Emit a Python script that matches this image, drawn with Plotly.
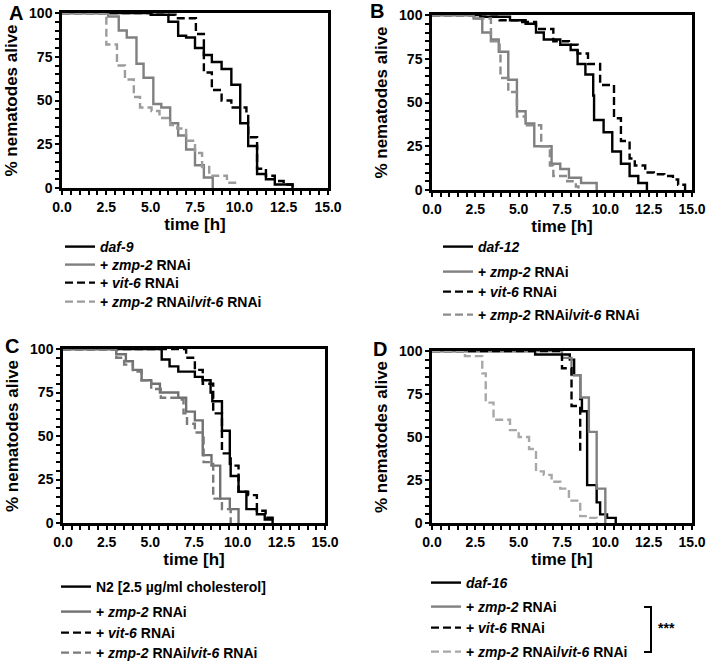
import plotly.graph_objects as go

W, H = 708, 663

# ---------------- data (time [h], % alive) ----------------
# Panel A
A_daf9_t = [0, 5.05, 6.0, 6.55, 7.0, 7.5, 8.0, 8.45, 9.0, 9.55, 10.05, 10.5, 11.0, 11.5, 12.0, 13.0]
A_daf9_s = [100, 99, 95, 87, 86, 80, 76, 72, 68, 59, 37, 24, 8, 5, 2, 0]
A_zmp2_t = [0, 2.6, 3.2, 3.65, 4.2, 4.6, 5.15, 5.6, 6.1, 6.55, 7.0, 7.5, 8.0, 8.5]
A_zmp2_s = [100, 98, 90, 86, 71, 63, 48, 46, 37, 30, 22, 13, 6, 0]
A_vit6_t = [0, 5.0, 6.4, 7.55, 8.0, 8.45, 9.0, 9.55, 10.4, 10.5, 11.0, 11.5, 12.0, 12.5, 13.0]
A_vit6_s = [100, 99, 97, 88, 66, 56, 50, 46, 43, 29, 11, 7, 4, 2, 0]
A_both_t = [0, 2.5, 3.1, 3.55, 4.05, 4.4, 5.05, 5.5, 6.1, 6.5, 7.0, 7.5, 7.9, 8.3, 9.3, 9.9]
A_both_s = [100, 82, 70, 62, 52, 46, 44, 40, 36, 34, 27, 20, 12, 7, 3, 3]

# Panel B
B_daf12_t = [0, 2.8, 4.5, 5.4, 6.0, 6.45, 7.4, 8.0, 8.4, 8.85, 9.3, 9.35, 9.9, 10.4, 10.9, 11.4, 11.9, 12.4]
B_daf12_s = [100, 99, 97, 95, 90, 86, 83, 80, 72, 66, 54, 40, 33, 22, 15, 8, 4, 0]
B_zmp2_t = [0, 2.4, 2.9, 3.4, 3.85, 4.4, 4.9, 5.4, 5.9, 6.9, 7.4, 7.9, 8.6, 9.5]
B_zmp2_s = [100, 98, 90, 86, 79, 63, 45, 38, 25, 15, 12, 7, 4, 0]
B_vit6_t = [0, 2.8, 3.9, 5.0, 6.0, 7.0, 7.9, 8.4, 9.0, 9.7, 10.5, 10.9, 11.4, 11.7, 12.3, 12.8, 13.4, 13.9, 14.2, 14.6]
B_vit6_s = [100, 99, 97, 96, 92, 85, 83, 78, 72, 60, 41, 28, 18, 14, 10, 9, 8, 6, 3, 0]
B_both_t = [0, 2.4, 3.4, 3.9, 3.95, 4.4, 4.9, 5.4, 6.3, 6.8, 7.0, 7.8, 8.3, 8.45]
B_both_s = [100, 98, 85, 79, 64, 56, 42, 37, 25, 14, 8, 5, 2, 0]

# Panel C
C_n2_t = [0, 5.65, 6.1, 6.6, 7.55, 8.0, 8.45, 8.55, 9.1, 9.55, 9.6, 10.05, 10.5, 11.1, 11.55, 12.0]
C_n2_s = [100, 94, 90, 87, 84, 82, 75, 70, 53, 34, 27, 18, 8, 5, 2, 0]
C_zmp2_t = [0, 3.05, 3.6, 4.0, 4.5, 5.05, 5.55, 6.6, 7.05, 7.55, 8.0, 8.5, 9.0, 9.55, 10.05]
C_zmp2_s = [100, 97, 93, 88, 82, 80, 75, 72, 64, 59, 39, 33, 14, 8, 0]
C_vit6_t = [0, 7.05, 7.55, 8.0, 8.6, 9.1, 9.6, 10.05, 10.6, 11.1, 11.6, 12.0]
C_vit6_s = [100, 95, 88, 80, 63, 40, 33, 18, 16, 7, 3, 0]
C_both_t = [0, 3.05, 3.5, 4.0, 4.5, 5.05, 5.6, 6.55, 6.9, 7.1, 7.55, 8.05, 8.6, 9.1, 9.6]
C_both_s = [100, 95, 91, 87, 82, 77, 72, 71, 63, 57, 52, 35, 14, 8, 0]

# Panel D
D_daf16_t = [0, 5.95, 7.95, 8.2, 8.55, 8.65, 8.95, 9.5, 9.7, 10.1, 10.6]
D_daf16_s = [100, 98, 95, 86, 72, 65, 22, 12, 5, 3, 0]
D_zmp2_t = [0, 7.5, 8.05, 8.55, 9.05, 9.5, 10.0]
D_zmp2_s = [100, 96, 86, 73, 53, 20, 0]
D_vit6_t = [0, 7.4, 7.5, 8.05, 8.55]
D_vit6_s = [100, 98, 90, 68, 40]
D_both_t = [0, 1.9, 2.9, 3.1, 3.55, 4.5, 5.0, 5.6, 6.0, 6.45, 6.9, 7.4, 7.9, 8.55, 9.0, 9.5]
D_both_s = [100, 97, 87, 70, 60, 54, 50, 43, 30, 28, 24, 20, 13, 4, 3, 0]

X_TICKS = [0, 2.5, 5.0, 7.5, 10.0, 12.5, 15.0]
X_LABELS = ["0.0", "2.5", "5.0", "7.5", "10.0", "12.5", "15.0"]
Y_TICKS = [0, 25, 50, 75, 100]
Y_LABELS = ["0", "25", "50", "75", "100"]

L_ZMP = "<b>+ <i>zmp-2</i> RNAi</b>"
L_VIT = "<b>+ <i>vit-6</i> RNAi</b>"
L_BOTH = "<b>+ <i>zmp-2</i> RNAi/<i>vit-6</i> RNAi</b>"

panels = [
    dict(key="", first="<b><i>daf-9</i></b>",
         data=[(A_daf9_t, A_daf9_s), (A_zmp2_t, A_zmp2_s), (A_vit6_t, A_vit6_s), (A_both_t, A_both_s)],
         gray="#808080", lgray="#9c9c9c", lx=60, ly=[247, 265, 283, 302]),
    dict(key="2", first="<b><i>daf-12</i></b>",
         data=[(B_daf12_t, B_daf12_s), (B_zmp2_t, B_zmp2_s), (B_vit6_t, B_vit6_s), (B_both_t, B_both_s)],
         gray="#808080", lgray="#8c8c8c", lx=438, ly=[247, 272, 292, 315]),
    dict(key="3", first="<b>N2 [2.5 µg/ml cholesterol]</b>",
         data=[(C_n2_t, C_n2_s), (C_zmp2_t, C_zmp2_s), (C_vit6_t, C_vit6_s), (C_both_t, C_both_s)],
         gray="#707070", lgray="#7a7a7a", lx=56, ly=[587, 612, 633, 653]),
    dict(key="4", first="<b><i>daf-16</i></b>",
         data=[(D_daf16_t, D_daf16_s), (D_zmp2_t, D_zmp2_s), (D_vit6_t, D_vit6_s), (D_both_t, D_both_s)],
         gray="#808080", lgray="#a8a8a8", lx=426, ly=[583, 607, 628, 652]),
]


def px_x(v):
    return v / W


def px_y(v):
    return 1 - v / H


DASH = "8px,4px"
fig = go.Figure()
legends = {}
n = 0
for p in panels:
    names = [p["first"], L_ZMP, L_VIT, L_BOTH]
    styles = [("black", "solid"), (p["gray"], "solid"), ("black", DASH), (p["lgray"], DASH)]
    for i in range(4):
        n += 1
        lname = "legend" if n == 1 else "legend%d" % n
        legends[lname] = dict(
            x=px_x(p["lx"]), y=px_y(p["ly"][i]), xanchor="left", yanchor="middle",
            bgcolor="rgba(0,0,0,0)", font=dict(size=14, color="black"), itemwidth=30,
        )
        t, s = p["data"][i]
        col, dash = styles[i]
        fig.add_trace(go.Scatter(
            x=t, y=s, mode="lines", line=dict(color=col, width=2.4, dash=dash, shape="hv"),
            name=names[i], legend=lname, showlegend=True,
            xaxis="x" + p["key"], yaxis="y" + p["key"],
        ))

domains = {
    "": ((62, 328), (13, 188)),
    "2": ((432, 692), (15, 190)),
    "3": ((63, 325), (349, 523)),
    "4": ((432, 692), (351, 523)),
}

layout = dict(
    width=W, height=H, margin=dict(l=0, r=0, t=0, b=0, autoexpand=False),
    paper_bgcolor="white", plot_bgcolor="white", showlegend=True,
    font=dict(family="Liberation Sans, Arial", color="black"),
)
layout.update(legends)
for k, ((x0, x1), (y0, y1)) in domains.items():
    layout["xaxis" + k] = dict(
        domain=[px_x(x0), px_x(x1)], range=[0, 15], anchor="y" + k, automargin=False,
        tickvals=X_TICKS, ticktext=["<b>%s</b>" % v for v in X_LABELS],
        ticks="outside", ticklen=4, tickwidth=2, tickcolor="black",
        minor=dict(dtick=0.5, tick0=0, ticks="outside", ticklen=4, tickwidth=1.5, tickcolor="black"),
        showline=True, linecolor="black", linewidth=2.5, mirror=True, showgrid=False, zeroline=False,
        tickfont=dict(size=14),
        title=dict(text="<b>time [h]</b>", font=dict(size=17), standoff=2),
    )
    layout["yaxis" + k] = dict(
        domain=[px_y(y1), px_y(y0)], range=[0, 100], anchor="x" + k, automargin=False,
        tickvals=Y_TICKS, ticktext=["<b>%s</b>" % v for v in Y_LABELS],
        ticks="outside", ticklen=4, tickwidth=2, tickcolor="black",
        minor=dict(dtick=5, tick0=0, ticks="outside", ticklen=4, tickwidth=1.5, tickcolor="black"),
        showline=True, linecolor="black", linewidth=2.5, mirror=True, showgrid=False, zeroline=False,
        tickfont=dict(size=14),
        title=dict(text="<b>% nematodes alive</b>", font=dict(size=17), standoff=8),
    )

fig.update_layout(**layout)

# panel letters
for txt, x, y in [("A", 16, 13), ("B", 377, 11), ("C", 12, 346), ("D", 380, 349)]:
    fig.add_annotation(text="<b>%s</b>" % txt, x=px_x(x), y=px_y(y), xref="paper", yref="paper",
                       xanchor="center", yanchor="middle",
                       showarrow=False, font=dict(size=20, color="black"))

# significance bracket in panel D
bx, by0, by1 = 651, 607, 652
fig.add_shape(type="path", xref="paper", yref="paper",
              path="M %f %f L %f %f L %f %f L %f %f" % (
                  px_x(bx - 7), px_y(by0), px_x(bx), px_y(by0), px_x(bx), px_y(by1), px_x(bx - 7), px_y(by1)),
              line=dict(color="black", width=2))
fig.add_annotation(text="<b>***</b>", x=px_x(656), y=px_y(628), xref="paper", yref="paper",
                   xanchor="left", yanchor="middle", showarrow=False, font=dict(size=14, color="black"))

fig.write_html("out.html", config={"displayModeBar": False},
               post_script="document.body.style.margin='0px';")
